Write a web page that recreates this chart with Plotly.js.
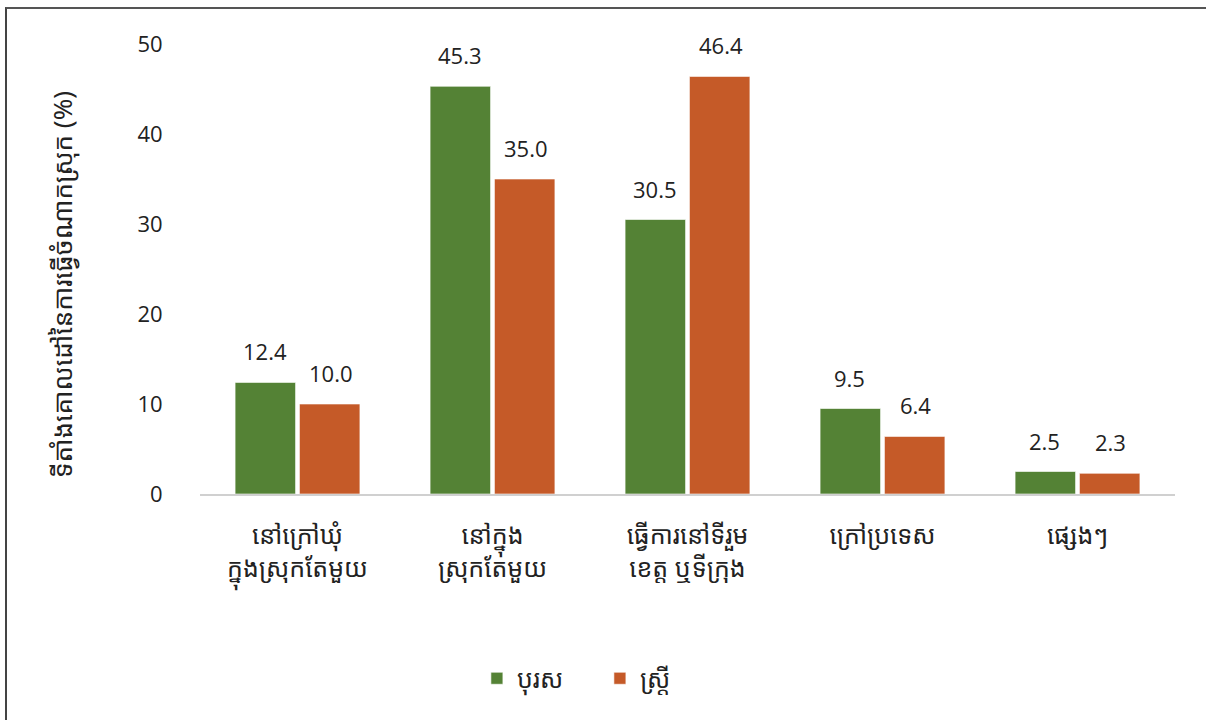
<!DOCTYPE html>
<html>
<head>
<meta charset="utf-8">
<script src="https://cdn.plot.ly/plotly-3.0.1.min.js"></script>
<style>
html,body{margin:0;padding:0;background:#fff;overflow:hidden;}
#frame{position:absolute;left:5px;top:7px;width:1201px;height:713px;border-left:2px solid #444;border-top:2px solid #555;box-sizing:border-box;}
#chart{position:absolute;left:0;top:0;width:1206px;height:720px;}
</style>
</head>
<body>
<div id="frame"></div>
<div id="chart"></div>
<script>
const categories = ["នៅក្រៅឃុំ<br>ក្នុងស្រុកតែមួយ", "នៅក្នុង<br>ស្រុកតែមួយ", "ធ្វើការនៅទីរួម<br>ខេត្ត ឬទីក្រុង", "ក្រៅប្រទេស", "ផ្សេងៗ"];
const seriesNames = ["បុរស", "ស្ត្រី"];
const menValues = [12.4, 45.3, 30.5, 9.5, 2.5];
const womenValues = [10.0, 35.0, 46.4, 6.4, 2.3];
const yTicks = [0, 10, 20, 30, 40, 50];
const yTitle = "ទីតាំងគោលដៅនៃការធ្វើចំណាកស្រុក (%)";

const khFont = "'Noto Sans Khmer', 'Khmer OS', 'Noto Sans', 'DejaVu Sans', sans-serif";
const numFont = "'Open Sans', 'Liberation Sans', sans-serif";
const colors = ["#548235", "#C55A28"];

const traces = [menValues, womenValues].map((vals, i) => ({
  type: 'bar',
  name: seriesNames[i],
  x: categories,
  y: vals,
  marker: {color: colors[i], line: {color: 'rgba(255,255,255,0.6)', width: 1}},
  hoverinfo: 'skip'
}));

const annotations = [];
[menValues, womenValues].forEach((vals, i) => {
  vals.forEach((v, j) => {
    annotations.push({
      x: categories[j], y: v, xref: 'x', yref: 'y',
      text: v.toFixed(1), showarrow: false,
      xshift: i === 0 ? -33 : 33, yshift: 31,
      font: {family: numFont, size: 22, color: '#222'}
    });
  });
});
annotations.push({
  text: yTitle, textangle: -90, showarrow: false,
  xref: 'paper', yref: 'paper', x: 0, xshift: -138, y: 0.5, yshift: -16,
  xanchor: 'center', yanchor: 'middle',
  font: {family: khFont, size: 26, color: '#222'}
});

const layout = {
  width: 1206, height: 720,
  margin: {l: 200, r: 31, t: 44, b: 226},
  paper_bgcolor: 'rgba(0,0,0,0)',
  plot_bgcolor: 'rgba(0,0,0,0)',
  barmode: 'group',
  bargap: 0.34,
  bargroupgap: 0.06,
  showlegend: true,
  legend: {
    orientation: 'h', x: 0.284, xanchor: 'left', y: -0.41, yanchor: 'middle',
    font: {family: khFont, size: 25, color: '#222'},
    entrywidth: 78, entrywidthmode: 'pixels', itemwidth: 30, traceorder: 'normal'
  },
  xaxis: {
    tickvals: categories, ticktext: categories,
    showline: true, linecolor: '#d0d0d0', linewidth: 2,
    ticks: 'outside', ticklen: 18, tickcolor: 'rgba(0,0,0,0)',
    tickfont: {family: khFont, size: 25, color: '#222'},
    showgrid: false, zeroline: false, fixedrange: true
  },
  yaxis: {
    range: [0, 50], tickvals: yTicks, ticktext: yTicks.map(String),
    showgrid: false, zeroline: false, showline: false,
    ticks: 'outside', ticklen: 32, tickcolor: 'rgba(0,0,0,0)',
    tickfont: {family: numFont, size: 22, color: '#222'},
    fixedrange: true
  },
  annotations: annotations
};

Plotly.newPlot('chart', traces, layout, {displayModeBar: false, staticPlot: true});
</script>
</body>
</html>
